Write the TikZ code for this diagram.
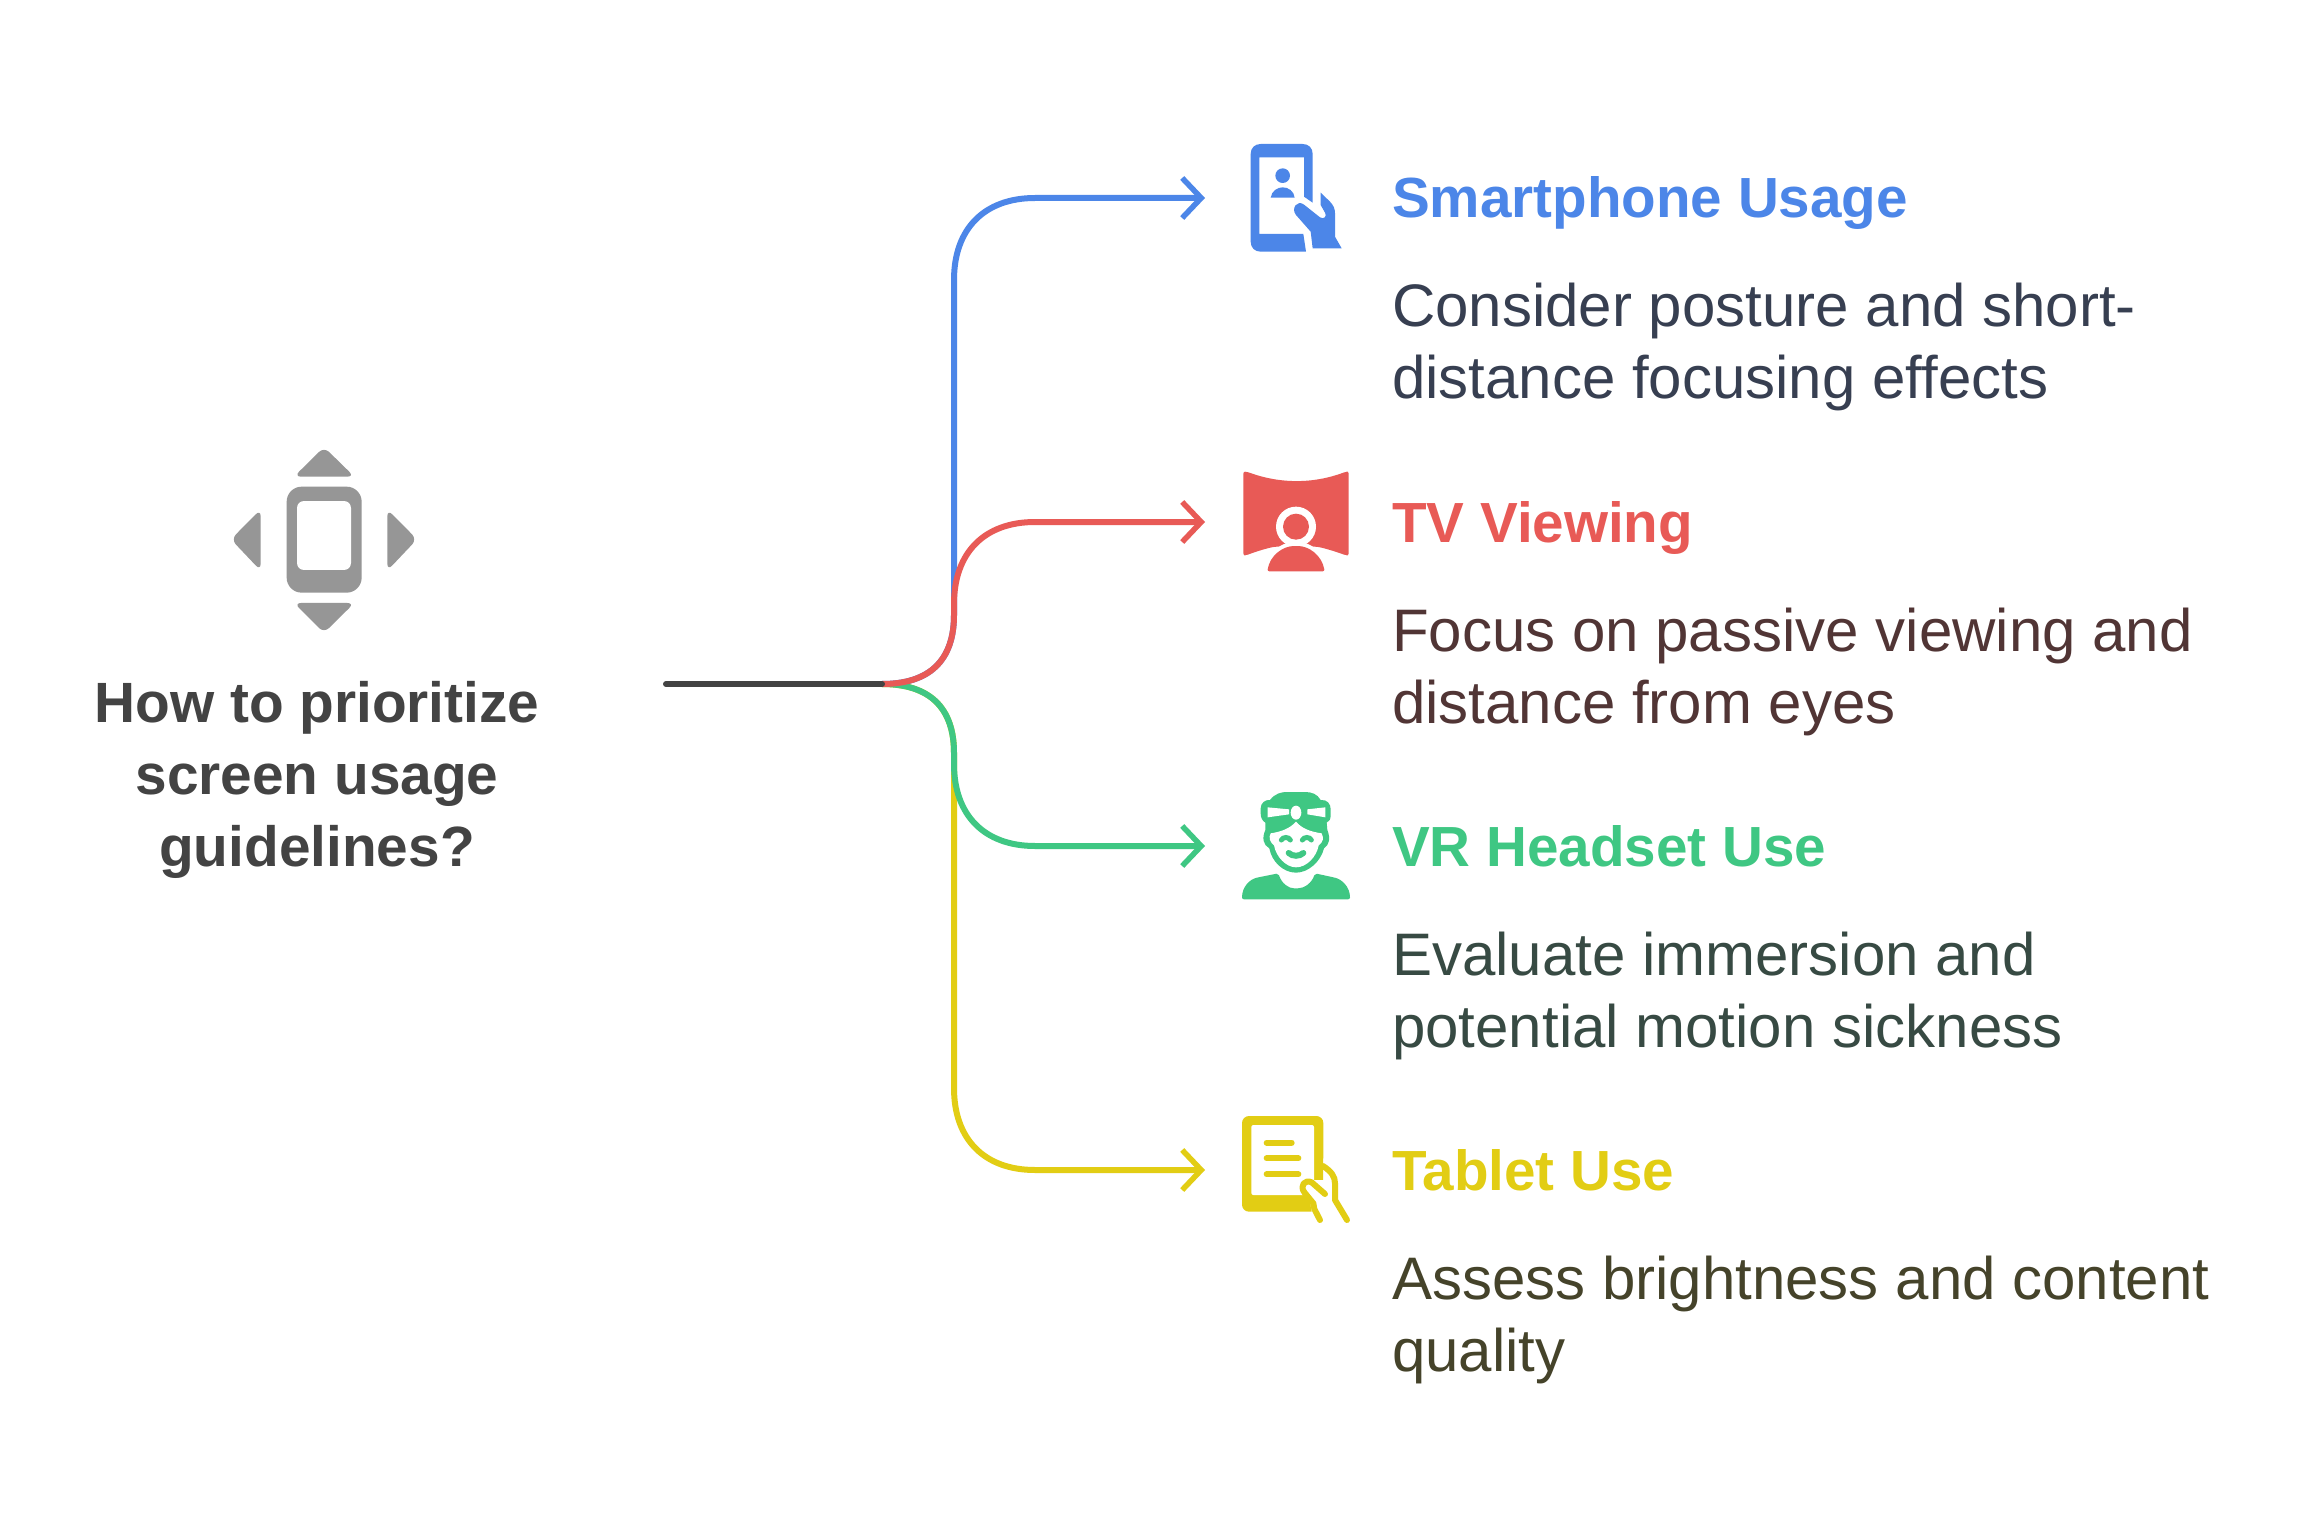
\documentclass[tikz,border=0pt]{standalone}
\usepackage{fontspec}
\setmainfont{Liberation Sans}
\usetikzlibrary{arrows.meta}
\definecolor{cblue}{HTML}{4C86E8}
\definecolor{cred}{HTML}{E85A56}
\definecolor{cgreen}{HTML}{3FC783}
\definecolor{cyellow}{HTML}{E2CD14}
\definecolor{cgrey}{HTML}{969696}
\definecolor{ctrunk}{HTML}{434343}
\definecolor{tblue}{HTML}{373F51}
\definecolor{tred}{HTML}{513535}
\definecolor{tgreen}{HTML}{374A43}
\definecolor{tyellow}{HTML}{45432A}
\tikzset{
  conn/.style={line width=6pt,line cap=round,line join=round},
  tipped/.style={conn,-{Straight Barb[length=19pt,width=40pt,line width=5.5pt]}},
  headtext/.style={anchor=base west,inner sep=0pt,font=\fontsize{56.6}{72}\selectfont\bfseries},
  bodytext/.style={anchor=base west,inner sep=0pt,font=\fontsize{60}{72}\selectfont},
  titletext/.style={anchor=base,inner sep=0pt,align=center,text=ctrunk,font=\fontsize{56.8}{72.5}\selectfont\bfseries},
  zoomed/.style={shift={#1},scale=1/3},
}
\begin{document}
\begin{tikzpicture}[x=1pt,y=-1pt]
\useasboundingbox (0,0) rectangle (2322,1530);
\fill[white] (0,0) rectangle (2322,1530);
% junction coordinates
\coordinate (start) at (666,684);
\coordinate (hub) at (882,684);
\coordinate (endA) at (1205,198);
\coordinate (endB) at (1205,522);
\coordinate (endC) at (1205,846);
\coordinate (endD) at (1205,1170);
% connectors
\draw[tipped,cblue] (hub) .. controls (930,684) and (954,660) .. (954,615) -- (954,280) .. controls (954,228) and (985,198) .. (1035,198) -- (endA);
\draw[tipped,cyellow] (hub) .. controls (930,684) and (954,708) .. (954,753) -- (954,1088) .. controls (954,1140) and (985,1170) .. (1035,1170) -- (endD);
\draw[tipped,cgreen] (hub) .. controls (930,684) and (954,708) .. (954,753) -- (954,764) .. controls (954,816) and (985,846) .. (1035,846) -- (endC);
\draw[tipped,cred] (hub) .. controls (930,684) and (954,660) .. (954,615) -- (954,604) .. controls (954,552) and (985,522) .. (1035,522) -- (endB);
\draw[conn,ctrunk] (start) -- (hub);
% left icon
\begin{scope}[zoomed={(200,420)}]
\fill[cgrey,rounded corners=15pt] (260,200) rectangle (485,518);
\fill[white,rounded corners=7pt] (291,243) rectangle (453,450);
\fill[cgrey,rounded corners=7pt] (372,81) -- (463,170) -- (282,170) -- cycle;
\fill[cgrey,rounded corners=7pt] (372,639) -- (463,549) -- (282,549) -- cycle;
\fill[cgrey,rounded corners=7pt] (93,358) -- (182,268) -- (182,452) -- cycle;
\fill[cgrey,rounded corners=7pt] (651,358) -- (562,268) -- (562,452) -- cycle;
\end{scope}
% smartphone icon
\begin{scope}[zoomed={(1220,130)}]
\fill[cblue] (92,72) .. controls (92,54) and (104,42) .. (122,42) -- (248,42) .. controls (266,42) and (278,54) .. (278,72) -- (278,218) -- (252,200) -- (252,82) -- (118,82) -- (118,312) -- (250,312) -- (258,365) -- (122,365) .. controls (104,365) and (92,353) .. (92,335) -- cycle;
\fill[cblue] (188,137) circle[radius=22];
\fill[cblue] (152,203) .. controls (155,183) and (172,172) .. (188,172) .. controls (205,172) and (222,183) .. (224,203) -- cycle;
\fill[cblue] (302,188) -- (330,215) .. controls (340,226) and (345,235) .. (345,250) -- (345,320) -- (365,355) -- (278,355) -- (272,305) -- (228,255) .. controls (212,235) and (232,208) .. (252,224) -- (300,262) .. controls (312,270) and (322,258) .. (315,248) -- (302,225) -- cycle;
\end{scope}
% TV icon
\begin{scope}[zoomed={(1220,460)}]
\fill[cred,rounded corners=2pt] (70,35) -- (80,35) .. controls (180,72) and (280,72) .. (378,35) -- (386,35) -- (386,286) -- (378,286) .. controls (350,276) and (320,266) .. (290,260) -- (165,260) .. controls (135,266) and (105,276) .. (78,286) -- (70,286) -- cycle;
\fill[white] (228,200) circle[radius=60];
\fill[white] (125,345) .. controls (140,270) and (190,245) .. (228,245) .. controls (266,245) and (316,270) .. (330,345) -- cycle;
\fill[cred] (228,200) circle[radius=39];
\fill[cred,rounded corners=2pt] (142,334) .. controls (150,285) and (190,258) .. (228,258) .. controls (266,258) and (305,285) .. (314,334) -- cycle;
\end{scope}
% VR icon
\begin{scope}[zoomed={(1220,780)}]
\fill[cgreen,rounded corners=2pt] (66,358) .. controls (66,320) and (90,298) .. (115,292) -- (175,280) .. controls (185,310) and (205,325) .. (228,325) .. controls (252,325) and (275,310) .. (285,280) -- (340,292) .. controls (365,298) and (390,320) .. (390,358) -- cycle;
\fill[cgreen] (150,60) .. controls (165,40) and (185,36) .. (200,36) -- (255,36) .. controls (275,36) and (292,42) .. (302,60) .. controls (322,58) and (332,72) .. (332,88) -- (332,105) .. controls (332,118) and (328,125) .. (320,128) -- (322,150) .. controls (332,175) and (328,195) .. (312,205) .. controls (302,245) and (265,278) .. (228,278) .. controls (190,278) and (155,245) .. (148,205) .. controls (130,195) and (125,175) .. (136,150) -- (136,128) .. controls (126,122) and (122,112) .. (122,100) -- (122,85) .. controls (122,70) and (135,58) .. (150,60) -- cycle;
\fill[white] (152,160) .. controls (185,155) and (210,145) .. (228,125) .. controls (245,145) and (270,155) .. (305,160) .. controls (312,175) and (310,185) .. (296,196) .. controls (290,230) and (260,262) .. (228,262) .. controls (198,262) and (168,230) .. (162,196) .. controls (148,185) and (146,172) .. (152,160) -- cycle;
\fill[white] (143,82) -- (207,88) -- (207,103) -- (143,112) -- cycle;
\fill[white] (316,82) -- (262,88) -- (262,103) -- (316,112) -- cycle;
\fill[white] (228,98) ellipse[x radius=16,y radius=21];
\draw[cgreen,line width=5pt,line cap=round] (184,180) .. controls (190,170) and (205,170) .. (211,180);
\draw[cgreen,line width=5pt,line cap=round] (247,180) .. controls (253,170) and (268,170) .. (274,180);
\draw[cgreen,line width=6pt,line cap=round] (206,219) .. controls (218,230) and (238,230) .. (250,219);
\end{scope}
% tablet icon
\begin{scope}[zoomed={(1220,1105)}]
\fill[cyellow,rounded corners=7pt] (66,33) rectangle (310,320);
\fill[white,rounded corners=2pt] (94,60) rectangle (282,270);
\draw[cyellow,line width=6pt,line cap=round] (140,113) -- (215,113) (140,160) -- (235,160) (140,208) -- (235,208);
\fill[white] (310,160) -- (360,200) -- (400,360) -- (300,360) -- (275,320) -- (270,285) -- (250,258) -- (245,240) -- (265,225) -- (310,225) -- cycle;
\draw[cyellow,line width=6pt,line cap=round,line join=round] (309,183) .. controls (335,200) and (345,215) .. (345,235) -- (345,285) -- (381,345);
\draw[cyellow,line width=6pt,line cap=round,line join=round] (315,267) -- (275,232) .. controls (255,222) and (238,242) .. (253,262) -- (280,295) -- (283,312) -- (300,345);
\end{scope}
% texts
\node[titletext] (qtitle) at (317,722) {How to prioritize};
\node[titletext] (qtitleb) at (317,794) {screen usage};
\node[titletext] (qtitlec) at (317,866) {guidelines?};
\node[headtext,text=cblue] (ha) at (1392,218) {Smartphone Usage};
\node[bodytext,text=tblue] (aa) at (1392,327) {Consider posture and short-};
\node[bodytext,text=tblue] (ab) at (1392,399) {distance focusing effects};
\node[headtext,text=cred] (hb) at (1392,542) {TV Viewing};
\node[bodytext,text=tred] (ba) at (1392,651) {Focus on passive viewing and};
\node[bodytext,text=tred] (bb) at (1392,723) {distance from eyes};
\node[headtext,text=cgreen] (hc) at (1392,866) {VR Headset Use};
\node[bodytext,text=tgreen] (ca) at (1392,975) {Evaluate immersion and};
\node[bodytext,text=tgreen] (cb) at (1392,1047) {potential motion sickness};
\node[headtext,text=cyellow] (hd) at (1392,1190) {Tablet Use};
\node[bodytext,text=tyellow] (da) at (1392,1299) {Assess brightness and content};
\node[bodytext,text=tyellow] (db) at (1392,1371) {quality};
\end{tikzpicture}
\end{document}
